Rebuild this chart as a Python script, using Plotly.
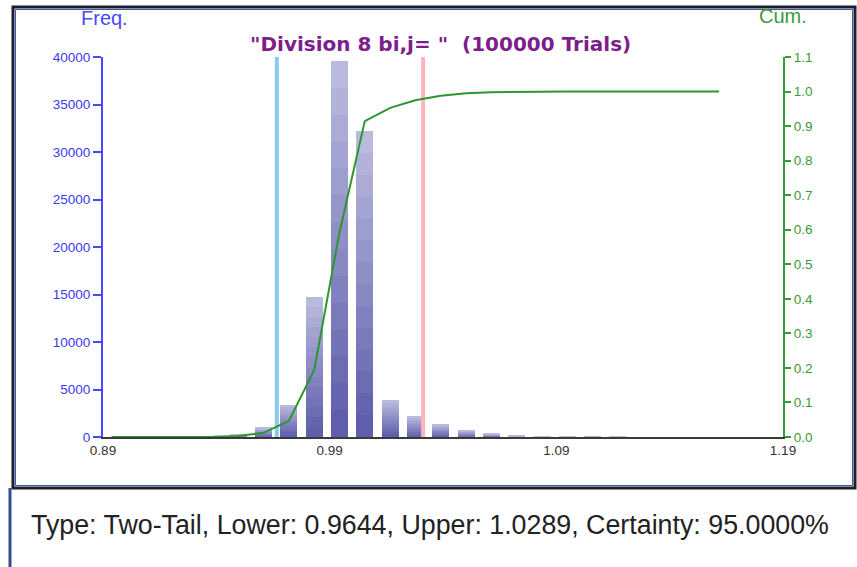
import numpy as np
import plotly.graph_objects as go

# ---------------- data ----------------
bin_centers = [0.8915, 0.9027, 0.9138, 0.9250, 0.9362, 0.9474, 0.9585, 0.9697,
               0.9809, 0.9920, 1.0032, 1.0144, 1.0255, 1.0367, 1.0479, 1.0590,
               1.0702, 1.0814, 1.0925, 1.1037, 1.1149, 1.1260, 1.1372, 1.1484,
               1.1595]
freq = [0, 0, 0, 5, 40, 220, 950, 3400, 14780, 39580, 32220, 3850, 2170, 1300,
        700, 320, 120, 50, 20, 10, 5, 0, 0, 0, 0]
lower = 0.9644
upper = 1.0289
certainty = 95.0
x_ticks = [0.8877, 0.9877, 1.0877, 1.1877]
x_tick_text = ["0.89", "0.99", "1.09", "1.19"]
title = '"Division 8 bi,j= "  (100000 Trials)'
info = "Type: Two-Tail, Lower: %.4f, Upper: %.4f, Certainty: %.4f%%" % (lower, upper, certainty)

freq_arr = np.array(freq, dtype=float)
cum = np.cumsum(freq_arr) / freq_arr.sum()

# ---------------- geometry (pixels) ----------------
W, H = 857, 567
L, R, T, B = 103, 783, 57, 437
pw, ph = R - L, B - T


def px(x):
    return (x - L) / pw


def py(y):
    return (B - y) / ph


fig = go.Figure()

# gradient bars: stack N slices per bar, dark at bottom, light at top
N = 14
c_bot = np.array([94, 94, 172])
c_top = np.array([186, 186, 222])
for k in range(N):
    t = k / (N - 1)
    c = (c_bot * (1 - t) + c_top * t).astype(int)
    fig.add_trace(go.Bar(
        x=bin_centers, y=(freq_arr / N).tolist(), width=0.0075,
        marker=dict(color="rgb(%d,%d,%d)" % tuple(c), line=dict(width=0)),
        showlegend=False, hoverinfo="skip", yaxis="y"))

# lower / upper lines
fig.add_trace(go.Scatter(x=[lower, lower], y=[0, 40000], mode="lines",
                         line=dict(color="#86CBF2", width=4), showlegend=False, yaxis="y"))
fig.add_trace(go.Scatter(x=[upper, upper], y=[0, 40000], mode="lines",
                         line=dict(color="#FFB3BC", width=4), showlegend=False, yaxis="y"))

# cumulative line
fig.add_trace(go.Scatter(x=bin_centers, y=cum.tolist(), mode="lines",
                         line=dict(color="#2E962E", width=2), showlegend=False, yaxis="y2"))

tickfont_l = dict(family="Liberation Sans, Arial", size=13.5, color="#3A3AF8")
tickfont_r = dict(family="Liberation Sans, Arial", size=13.5, color="#3A9A3A")

fig.update_layout(
    width=W, height=H,
    margin=dict(l=L, r=W - R, t=T, b=H - B),
    paper_bgcolor="white", plot_bgcolor="white",
    barmode="stack", bargap=0,
    showlegend=False,
    xaxis=dict(range=[x_ticks[0], x_ticks[-1]], tickvals=x_ticks, ticktext=x_tick_text,
               showgrid=False, zeroline=False, showline=True, linecolor="#3a3a3a",
               linewidth=2, ticks="", ticklen=0,
               tickfont=dict(family="Liberation Sans, Arial", size=13.5, color="#333333")),
    yaxis=dict(range=[0, 40000], dtick=5000, tickformat="d", showgrid=False,
               zeroline=False, showline=True, linecolor="#4848FF", linewidth=2,
               ticks="outside", ticklen=8, tickwidth=2, tickcolor="#4848FF",
               tickfont=tickfont_l),
    yaxis2=dict(range=[0, 1.1], dtick=0.1, tickformat=".1f", overlaying="y",
                side="right", showgrid=False, zeroline=False, showline=True,
                linecolor="#3A9A3A", linewidth=2, ticks="outside", ticklen=6,
                tickwidth=2, tickcolor="#3A9A3A", tickfont=tickfont_r),
)

# title and axis captions
fig.add_annotation(x=px(440), y=py(44), xref="paper", yref="paper", text="<b>%s</b>" % title,
                   showarrow=False, xanchor="center", yanchor="middle",
                   font=dict(family="DejaVu Sans", size=20, color="#7E1E8C"))
fig.add_annotation(x=px(104), y=py(18), xref="paper", yref="paper", text="Freq.",
                   showarrow=False, xanchor="center", yanchor="middle",
                   font=dict(family="Liberation Sans, Arial", size=20, color="#4848FF"))
fig.add_annotation(x=px(783), y=py(16), xref="paper", yref="paper", text="Cum.",
                   showarrow=False, xanchor="center", yanchor="middle",
                   font=dict(family="Liberation Sans, Arial", size=20, color="#3A9A3A"))
fig.add_annotation(x=px(29), y=py(525), xref="paper", yref="paper", text=info,
                   showarrow=False, xanchor="left", yanchor="middle",
                   font=dict(family="Liberation Sans, Arial", size=26.8, color="#222222"))

# frame
fig.add_shape(type="rect", xref="paper", yref="paper",
              x0=px(13), x1=px(855), y0=py(7), y1=py(488),
              line=dict(color="#1E1E30", width=3), fillcolor="rgba(0,0,0,0)", layer="below")
fig.add_shape(type="rect", xref="paper", yref="paper",
              x0=px(15.5), x1=px(852.5), y0=py(9.5), y1=py(485.5),
              line=dict(color="#3C5AA0", width=1), fillcolor="rgba(0,0,0,0)", layer="below")
fig.add_shape(type="line", xref="paper", yref="paper",
              x0=px(10), x1=px(10), y0=py(488), y1=py(570),
              line=dict(color="#2E4E90", width=3))

fig.write_html("out.html")
